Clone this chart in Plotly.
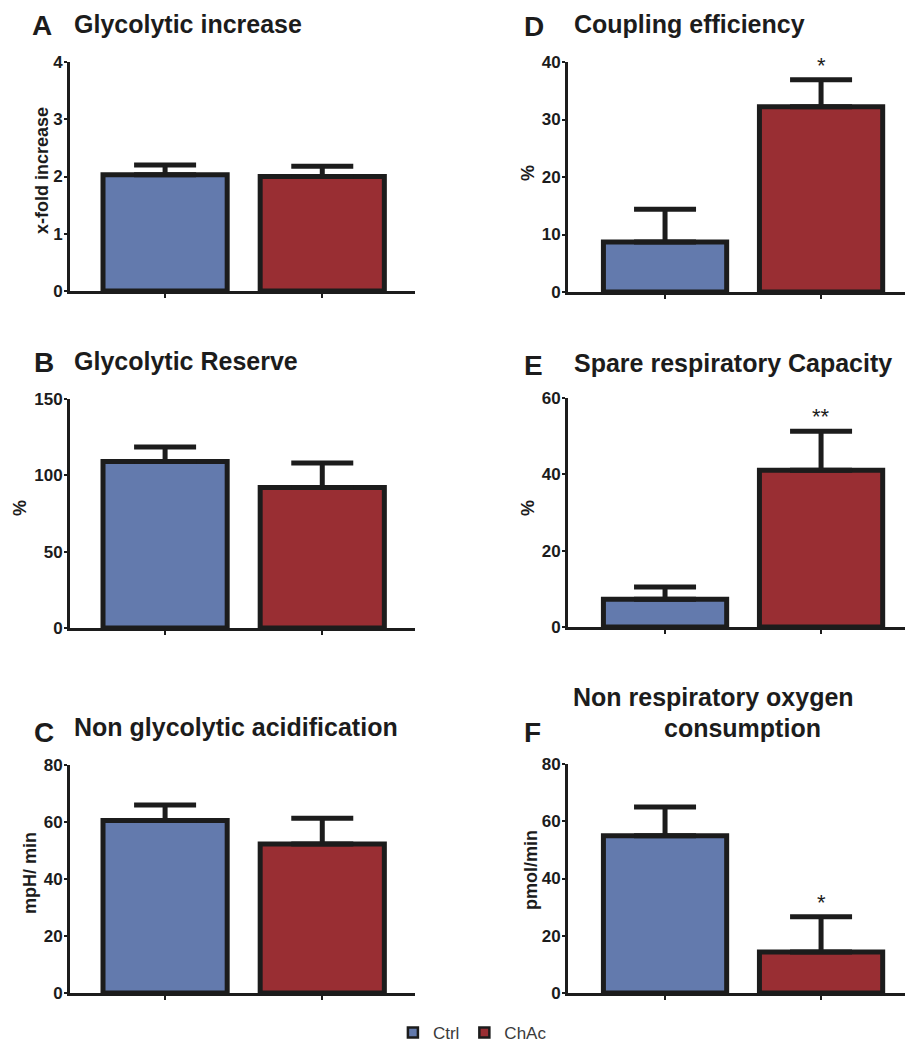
import plotly.graph_objects as go

W, H = 905, 1043

# ---------------- data ----------------
categories = ["Ctrl", "ChAc"]
letters = ["A", "B", "C", "D", "E", "F"]
titles = ["Glycolytic increase", "Glycolytic Reserve", "Non glycolytic acidification",
          "Coupling efficiency", "Spare respiratory Capacity",
          "Non respiratory oxygen<br>consumption"]
y_titles = ["x-fold increase", "%", "mpH/ min", "%", "%", "pmol/min"]
y_max = [4, 150, 80, 40, 60, 80]
y_dtick = [1, 50, 20, 10, 20, 20]

glyc_increase = [2.03, 2.00]
glyc_increase_err = [0.17, 0.18]
glyc_reserve = [109.0, 92.0]
glyc_reserve_err = [9.5, 16.0]
non_glyc_acid = [60.5, 52.3]
non_glyc_acid_err = [5.5, 9.0]
coupling_eff = [8.7, 32.2]
coupling_eff_err = [5.7, 4.7]
spare_capacity = [7.3, 41.1]
spare_capacity_err = [3.2, 10.2]
non_resp_o2 = [54.9, 14.3]
non_resp_o2_err = [10.1, 12.3]
significance_D = ["", "*"]
significance_E = ["", "**"]
significance_F = ["", "*"]

values = [glyc_increase, glyc_reserve, non_glyc_acid, coupling_eff, spare_capacity, non_resp_o2]
errors = [glyc_increase_err, glyc_reserve_err, non_glyc_acid_err,
          coupling_eff_err, spare_capacity_err, non_resp_o2_err]
signif = [["", ""], ["", ""], ["", ""], significance_D, significance_E, significance_F]

colors = ["#637AAD", "#992E33"]
INK = "#1c1c1c"
FONT = "Liberation Sans, Arial, sans-serif"

# ---------------- layout geometry (pixels) ----------------
# (x0, x1, ytop, ybottom) of each plot area
boxes = [(70, 415, 62, 291), (70, 415, 399, 628), (70, 415, 765, 993),
         (568, 905, 62, 292), (568, 905, 398, 627), (568, 905, 764, 993)]
x_ranges = [[-0.605, 1.59]] * 3 + [[-0.622, 1.538]] * 3
# centre of each rotated y-axis title (pixels)
ytitle_pos = [(42, 171), (20, 508), (30, 873), (528, 173), (528, 508), (531, 870)]


def px(x):
    return x / W


def py(y):
    return 1 - y / H


fig = go.Figure()
layout = dict(
    width=W, height=H, margin=dict(l=0, r=0, t=0, b=0, autoexpand=False),
    paper_bgcolor="white", plot_bgcolor="white",
    barmode="overlay", font=dict(family=FONT, color=INK),
    showlegend=True,
    legend=dict(orientation="h", x=0.522, xanchor="center", y=py(1033), yanchor="middle",
                font=dict(size=17, color="#3a3a3a", family=FONT), itemwidth=30,
                bgcolor="rgba(0,0,0,0)"),
)

annotations = []
for i in range(6):
    xa = "x" if i == 0 else f"x{i+1}"
    ya = "y" if i == 0 else f"y{i+1}"
    x0, x1, yt, yb = boxes[i]
    layout["xaxis" if i == 0 else f"xaxis{i+1}"] = dict(
        domain=[px(x0), px(x1)], anchor=ya, type="category",
        categoryorder="array", categoryarray=categories,
        range=x_ranges[i], showgrid=False, zeroline=False,
        showline=True, linewidth=3, linecolor=INK,
        ticks="outside", ticklen=4, tickwidth=2, tickcolor=INK,
        showticklabels=False, fixedrange=True,
    )
    layout["yaxis" if i == 0 else f"yaxis{i+1}"] = dict(
        domain=[py(yb), py(yt)], anchor=xa, range=[0, y_max[i]],
        tick0=0, dtick=y_dtick[i], showgrid=False, zeroline=False,
        showline=True, linewidth=3, linecolor=INK,
        ticks="outside", ticklen=3, tickwidth=2, tickcolor=INK,
        tickfont=dict(size=17, weight="bold", color=INK, family=FONT),
        ticklabelstandoff=-2,
        fixedrange=True,
    )
    tx, ty = ytitle_pos[i]
    annotations.append(dict(x=px(tx), y=py(ty), xref="paper", yref="paper", text=y_titles[i],
                            textangle=-90, showarrow=False, xanchor="center", yanchor="middle",
                            font=dict(size=18, weight="bold", color=INK, family=FONT)))
    for j, cat in enumerate(categories):
        fig.add_trace(go.Bar(
            x=[cat], y=[values[i][j]], xaxis=xa, yaxis=ya, width=0.79,
            marker=dict(color=colors[j], line=dict(color=INK, width=5)),
            error_y=dict(type="data", symmetric=False, array=[errors[i][j]], arrayminus=[0],
                         thickness=5, width=31, color=INK),
            showlegend=False, hoverinfo="skip",
        ))
        if signif[i][j]:
            annotations.append(dict(
                x=cat, y=values[i][j] + errors[i][j], xref=xa, yref=ya,
                text=signif[i][j], showarrow=False, yanchor="bottom", yshift=0,
                font=dict(size=22, color=INK, family=FONT),
            ))

# legend entries
for j, cat in enumerate(categories):
    fig.add_trace(go.Scatter(
        x=[None], y=[None], mode="markers", name=cat,
        marker=dict(symbol="square", size=10, color=colors[j], line=dict(color=INK, width=2.5)),
        xaxis="x", yaxis="y", hoverinfo="skip",
    ))

# panel letters and titles
letter_pos = [(30, 25), (32, 363), (32, 732), (522, 26), (522, 366), (522, 732)]
title_pos = [(72, 24), (72, 361), (72, 727), (572, 24), (572, 363)]
for i in range(6):
    lx, ly = letter_pos[i]
    annotations.append(dict(x=px(lx), y=py(ly), xref="paper", yref="paper", text=letters[i],
                            showarrow=False, xanchor="left", yanchor="middle",
                            font=dict(size=28, weight="bold", color=INK, family=FONT)))
    if i < 5:
        tx, ty = title_pos[i]
        annotations.append(dict(x=px(tx), y=py(ty), xref="paper", yref="paper", text=titles[i],
                                showarrow=False, xanchor="left", yanchor="middle",
                                font=dict(size=25, weight="bold", color=INK, family=FONT)))
    else:
        lines = titles[i].split("<br>")
        for k, (cx, cy) in enumerate([(713, 697), (742, 728)]):
            annotations.append(dict(x=px(cx), y=py(cy), xref="paper", yref="paper", text=lines[k],
                                    showarrow=False, xanchor="center", yanchor="middle",
                                    font=dict(size=25, weight="bold", color=INK, family=FONT)))

layout["annotations"] = annotations
fig.update_layout(**layout)
fig.write_html("out.html",
               post_script="document.body.style.margin='0';document.body.style.overflow='hidden';")
